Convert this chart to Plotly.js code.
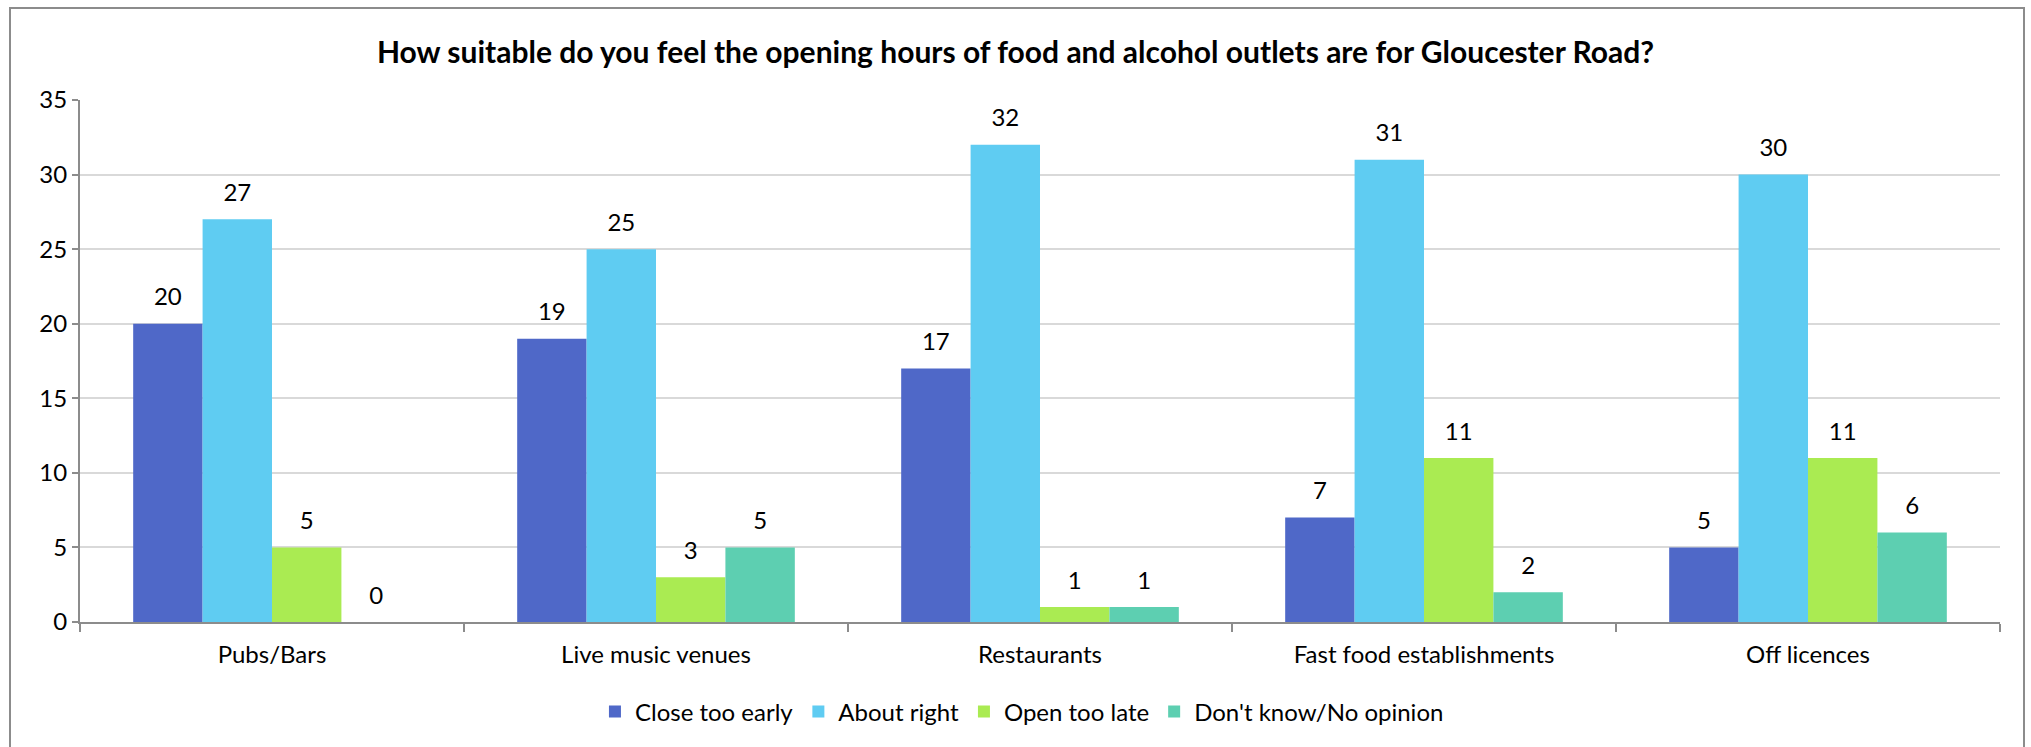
<!DOCTYPE html>
<html>
<head>
<meta charset="utf-8">
<script src="https://cdn.plot.ly/plotly-3.0.1.min.js"></script>
<style>
  html, body { margin: 0; padding: 0; background: #ffffff; }
  #wrap { position: relative; width: 2031px; height: 747px; }
  #chart { width: 2031px; height: 747px; }
  #frame { position: absolute; left: 9px; top: 7px; width: 2016px; height: 760px;
           border: 2px solid #8c8c8c; pointer-events: none; box-sizing: border-box; }
</style>
</head>
<body>
<div id="wrap">
  <div id="chart"></div>
  <div id="frame"></div>
</div>
<script>
const categories = ["Pubs/Bars", "Live music venues", "Restaurants", "Fast food establishments", "Off licences"];
const seriesNames = ["Close too early", "About right", "Open too late", "Don't know/No opinion"];
const closeTooEarly = [20, 19, 17, 7, 5];
const aboutRight = [27, 25, 32, 31, 30];
const openTooLate = [5, 3, 1, 11, 11];
const dontKnow = [0, 5, 1, 2, 6];
const seriesValues = [closeTooEarly, aboutRight, openTooLate, dontKnow];
const seriesColors = ["#4F68C8", "#5FCCF2", "#AAEB52", "#5DCFB1"];

const FONT = "Lato, 'Open Sans', sans-serif";
const traces = [];
seriesValues.forEach((vals, i) => {
  traces.push({
    type: "bar",
    name: seriesNames[i],
    x: categories,
    y: vals,
    marker: { color: seriesColors[i], line: { width: 0 } },
    hoverinfo: "x+y+name"
  });
});
seriesValues.forEach((vals, i) => {
  traces.push({
    type: "scatter",
    mode: "markers+text",
    x: categories,
    y: vals,
    text: vals.map(String),
    textposition: "top center",
    textfont: { family: FONT, size: 24, color: "#000000" },
    marker: { size: 18, opacity: 0 },
    showlegend: false,
    hoverinfo: "skip",
    cliponaxis: false
  });
});

const layout = {
  width: 2031,
  height: 747,
  margin: { l: 80, r: 31, t: 100, b: 125 },
  paper_bgcolor: "#ffffff",
  plot_bgcolor: "#ffffff",
  font: { family: FONT, size: 24, color: "#000000" },
  title: {
    text: "<b>How suitable do you feel the opening hours of food and alcohol outlets are for Gloucester Road?</b>",
    font: { family: FONT, size: 30, color: "#000000" },
    x: 0.5, xanchor: "center",
    y: 1 - 52 / 747, yanchor: "middle"
  },
  barmode: "group",
  bargap: 0.277,
  bargroupgap: 0,
  scattermode: "group",
  scattergap: 0.277,
  showlegend: true,
  legend: {
    orientation: "h",
    x: 0.4906, xanchor: "center",
    y: -0.172, yanchor: "middle",
    font: { family: FONT, size: 24, color: "#000000" },
    itemwidth: 30,
    traceorder: "normal"
  },
  xaxis: {
    type: "category",
    showline: true, linecolor: "#8c8c8c", linewidth: 2,
    ticks: "outside", tickson: "boundaries", ticklen: 8, tickcolor: "#8c8c8c", tickwidth: 2,
    ticklabelstandoff: 10,
    showgrid: false,
    tickfont: { family: FONT, size: 24, color: "#000000" }
  },
  yaxis: {
    range: [0, 35],
    dtick: 5,
    tick0: 0,
    showline: true, linecolor: "#8c8c8c", linewidth: 2,
    ticks: "outside", ticklen: 6, tickcolor: "#8c8c8c", tickwidth: 2,
    showgrid: true, gridcolor: "#d9d9d9", gridwidth: 2,
    zeroline: false,
    tickfont: { family: FONT, size: 24, color: "#000000" }
  }
};

Plotly.newPlot("chart", traces, layout, { displayModeBar: false, staticPlot: true });
</script>
</body>
</html>
